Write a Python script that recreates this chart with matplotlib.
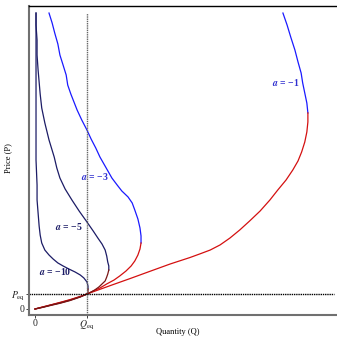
import matplotlib
matplotlib.use("Agg")
import matplotlib.pyplot as plt

plt.rcParams['mathtext.fontset'] = 'stix'
plt.rcParams['font.family'] = ['Liberation Serif', 'DejaVu Serif']

# dati (Q_eq = 1, P_eq = 1)
Q_eq = 1.0
P_eq = 1.0

# a = -1
q1_up = [4.77, 4.85, 4.92, 5.00, 5.06, 5.12, 5.15, 5.19, 5.23, 5.25]
p1_up = [19.73, 18.93, 18.13, 17.27, 16.47, 15.73, 15.07, 14.40, 13.73, 13.07]
q1_lo = [5.25, 5.25, 5.23, 5.19, 5.13, 5.06, 4.96, 4.83, 4.67, 4.52, 4.33, 4.13,
         3.94, 3.75, 3.56, 3.37, 3.17, 2.98, 2.60, 2.21, 1.83, 1.44, 1.00, 0.87,
         0.67, 0.48, 0.33, 0.15, 0.0]
p1_lo = [13.07, 12.47, 11.80, 11.13, 10.47, 9.87, 9.27, 8.60, 7.93, 7.27, 6.53, 5.87,
         5.27, 4.73, 4.27, 3.93, 3.67, 3.43, 3.00, 2.51, 2.03, 1.55, 1.00, 0.84,
         0.62, 0.44, 0.30, 0.14, 0.0]

# a = -3
q3_up = [0.27, 0.33, 0.38, 0.44, 0.48, 0.54, 0.60, 0.63, 0.69, 0.75, 0.81, 0.90,
         1.00, 1.08, 1.17, 1.25, 1.37, 1.48, 1.58, 1.67, 1.79, 1.87, 1.92, 1.98,
         2.02, 2.04, 2.04]
p3_up = [19.73, 19.07, 18.40, 17.67, 16.93, 16.27, 15.60, 14.93, 14.33, 13.80, 13.27,
         12.60, 11.93, 11.33, 10.73, 10.13, 9.40, 8.73, 8.27, 7.87, 7.47, 7.07, 6.60,
         6.00, 5.40, 4.87, 4.40]
q3_lo = [2.04, 2.02, 1.98, 1.92, 1.85, 1.75, 1.63, 1.52, 1.38, 1.25, 1.12, 1.00,
         0.87, 0.67, 0.48, 0.33, 0.15, 0.0]
p3_lo = [4.40, 4.00, 3.60, 3.20, 2.87, 2.53, 2.20, 1.93, 1.67, 1.40, 1.20, 1.00,
         0.82, 0.60, 0.42, 0.29, 0.13, 0.0]

# a = -5
q5_up = [0.02, 0.02, 0.04, 0.04, 0.06, 0.08, 0.10, 0.13, 0.19, 0.27, 0.37, 0.42,
         0.48, 0.58, 0.71, 0.85, 1.00, 1.12, 1.21, 1.29, 1.35, 1.38, 1.40, 1.42, 1.42]
p5_up = [19.73, 18.93, 17.93, 16.93, 15.93, 15.13, 14.33, 13.40, 12.40, 11.27, 10.13,
         9.40, 8.73, 8.00, 7.27, 6.53, 5.80, 5.20, 4.73, 4.33, 3.93, 3.53, 3.13,
         2.87, 2.60]
q5_lo = [1.42, 1.40, 1.38, 1.35, 1.29, 1.23, 1.15, 1.08, 1.00, 0.87, 0.67, 0.48,
         0.33, 0.15, 0.0]
p5_lo = [2.60, 2.33, 2.13, 1.87, 1.67, 1.47, 1.27, 1.13, 1.00, 0.81, 0.58, 0.40,
         0.28, 0.12, 0.0]

# a = -10
q10_up = [0.02, 0.02, 0.02, 0.02, 0.04, 0.04, 0.06, 0.08, 0.10, 0.13, 0.19, 0.27,
          0.35, 0.44, 0.54, 0.65, 0.77, 0.87, 0.94, 1.00, 1.02, 1.02]
p10_up = [19.73, 16.60, 12.60, 9.93, 8.27, 7.27, 6.40, 5.53, 4.93, 4.40, 3.93, 3.60,
          3.33, 3.07, 2.87, 2.67, 2.47, 2.27, 2.07, 1.80, 1.53, 1.33]
q10_lo = [1.02, 1.02, 1.00, 0.87, 0.67, 0.48, 0.33, 0.15, 0.0]
p10_lo = [1.33, 1.13, 1.00, 0.80, 0.56, 0.38, 0.26, 0.11, 0.0]

blu = '#1a1aff'
rosso = '#d41010'
navy = '#1c1c66'
rosso_scuro = '#7a1515'

fig = plt.figure(figsize=(3.37, 3.37), dpi=100)
ax = fig.add_axes([29/337, 22/337, 1 - 29/337, (315 - 6)/337])

lw = 0.9
ax.plot(q1_up, p1_up, c=blu, lw=lw)
ax.plot(q1_lo, p1_lo, c=rosso, lw=lw)
ax.plot(q3_up, p3_up, c=blu, lw=lw)
ax.plot(q3_lo, p3_lo, c=rosso, lw=lw)
ax.plot(q5_up, p5_up, c=navy, lw=lw)
ax.plot(q5_lo, p5_lo, c=rosso_scuro, lw=lw)
ax.plot(q10_up, p10_up, c=navy, lw=lw)
ax.plot(q10_lo, p10_lo, c=rosso_scuro, lw=lw)

# linee di equilibrio
ax.plot([Q_eq, Q_eq], [-0.4, 19.73], c='#666666', lw=1.0, ls=(0, (1, 0.6)))
ax.plot([-0.115, 5.75], [P_eq, P_eq], c='black', lw=1.0, ls=(0, (1, 0.6)))

etichetta = dict(fontsize=7, fontweight='bold', ha='center', va='center')
ax.text(4.83, 15.07, r'$\boldsymbol{a}$ = −1', color='#3030d0', **etichetta)
ax.text(1.15, 8.80, r'$\boldsymbol{a}$ = −3', color='#3030d0', **etichetta)
ax.text(0.65, 5.53, r'$\boldsymbol{a}$ = −5', color=navy, **etichetta)
ax.text(0.38, 2.53, r'$\boldsymbol{a}$ = −10', color=navy, **etichetta)

ax.set_xlim(-0.115, 5.81)
ax.set_ylim(-0.4, 20.2)

ax.set_xticks([0, Q_eq])
ax.set_xticklabels(['0', r'$Q_{\rm eq}$'])
ax.set_yticks([0, P_eq])
ax.set_yticklabels(['0', r'$P_{\rm eq}$'])
ax.tick_params(labelsize=7, length=2, width=0.6, pad=1, colors='#222222')

fig.text(178/337, 1 - 332/337, 'Quantity (Q)', fontsize=6, ha='center', va='center')
fig.text(8/337, 1 - 158/337, 'Price (P)', fontsize=6, ha='center', va='center',
         rotation=90)

for s in ['left', 'bottom']:
    ax.spines[s].set_color('#707070')
    ax.spines[s].set_linewidth(1.5)
ax.spines['top'].set_color('black')
ax.spines['top'].set_linewidth(1.0)
ax.spines['right'].set_visible(False)

fig.savefig('out.png', dpi=100)
